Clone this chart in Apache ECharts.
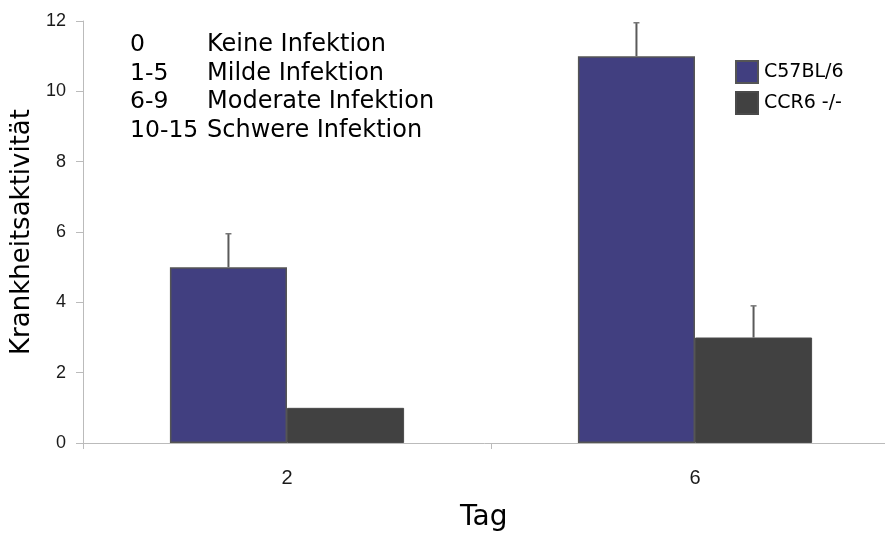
<!DOCTYPE html>
<html>
<head>
<meta charset="utf-8">
<script src="https://cdn.jsdelivr.net/npm/echarts@6/dist/echarts.min.js"></script>
<style>
  html, body { margin: 0; padding: 0; background: #fff; }
  #chart { width: 885px; height: 536px; }
</style>
</head>
<body>
<div id="chart"></div>
<script>
// Days after infection
const days = ['2', '6'];
// Mean disease activity score per strain
const wildType = [5, 11];
const knockout = [1, 3];
// Upper error (SD) per strain
const wildTypeErr = [0.95, 0.95];
const knockoutErr = [0, 0.9];
// Score scale legend
const scoreRanges = ['0', '1-5', '6-9', '10-15'];
const scoreNames = ['Keine Infektion', 'Milde Infektion', 'Moderate Infektion', 'Schwere Infektion'];

const FONT = 'DejaVu Sans';
const TICK_FONT = 'Liberation Sans';
const BAR_FRAC = 0.287;

const chart = echarts.init(document.getElementById('chart'));

function errorSeries(name, values, errs, side) {
  return {
    type: 'custom',
    name: name + ' err',
    z: 1,
    silent: true,
    data: values.map((v, i) => [i, v, errs[i]]),
    renderItem: function (params, api) {
      const err = api.value(2);
      if (!err) return null;
      const band = api.size([1, 0])[0];
      const off = side * band * BAR_FRAC / 2;
      const base = api.coord([api.value(0), api.value(1)]);
      const top = api.coord([api.value(0), api.value(1) + err]);
      const x = base[0] + off;
      return {
        type: 'group',
        children: [
          { type: 'line', shape: { x1: x, y1: base[1], x2: x, y2: top[1] }, style: { stroke: '#5a5a5a', lineWidth: 2 } },
          { type: 'line', shape: { x1: x - 3, y1: top[1], x2: x + 3, y2: top[1] }, style: { stroke: '#777', lineWidth: 1.5 } }
        ]
      };
    }
  };
}

// Score scale text block in the upper left of the plot
const graphics = [];
scoreRanges.forEach((r, i) => {
  const y = 44 + i * 28.5;
  graphics.push({ type: 'text', left: 130, top: y - 11, style: { text: r, font: '23.5px ' + FONT, fill: '#000' } });
  graphics.push({ type: 'text', left: 207, top: y - 11, style: { text: scoreNames[i], font: '24px ' + FONT, fill: '#000' } });
});
graphics.push({
  type: 'text', left: 460, top: 504,
  style: { text: 'Tag', font: '28px ' + FONT, fill: '#000' }
});

chart.setOption({
  animation: false,
  backgroundColor: '#fff',
  textStyle: { fontFamily: FONT },
  grid: { left: 83, top: 21, bottom: 93, right: -14, containLabel: false, outerBoundsMode: 'none' },
  legend: {
    orient: 'vertical',
    left: 730, top: 55,
    itemWidth: 22, itemHeight: 22, itemGap: 7,
    icon: 'rect',
    data: ['C57BL/6', 'CCR6 -/-'],
    textStyle: { fontSize: 19, color: '#000', fontFamily: FONT, padding: [0, 0, 0, 1] }
  },
  xAxis: {
    type: 'category',
    data: days,
    axisLine: { lineStyle: { color: '#bbb', width: 1 } },
    axisTick: { show: true, length: 6, lineStyle: { color: '#bbb' } },
    axisLabel: { fontSize: 20, color: '#1a1a1a', margin: 25, fontFamily: TICK_FONT }
  },
  yAxis: {
    type: 'value',
    min: 0, max: 12, interval: 2,
    name: 'Krankheitsaktivität',
    nameLocation: 'middle',
    nameGap: 44,
    nameRotate: 90,
    nameTextStyle: { fontSize: 26, color: '#000', fontFamily: FONT },
    axisLine: { show: true, lineStyle: { color: '#bbb', width: 1 } },
    axisTick: { show: true, length: 7, lineStyle: { color: '#bbb' } },
    splitLine: { show: false },
    axisLabel: { fontSize: 18, color: '#1a1a1a', margin: 17, fontFamily: TICK_FONT }
  },
  graphic: graphics,
  series: [
    {
      name: 'C57BL/6', type: 'bar', data: wildType,
      barWidth: (BAR_FRAC * 100) + '%', barGap: '0%',
      itemStyle: { color: '#413f80', borderColor: '#555', borderWidth: 1.5 },
      z: 2
    },
    {
      name: 'CCR6 -/-', type: 'bar', data: knockout,
      barWidth: (BAR_FRAC * 100) + '%', barGap: '0%',
      itemStyle: { color: '#414141', borderColor: '#4a4a4a', borderWidth: 1 },
      z: 2
    },
    errorSeries('C57BL/6', wildType, wildTypeErr, -1),
    errorSeries('CCR6 -/-', knockout, knockoutErr, 1)
  ]
});
</script>
</body>
</html>
